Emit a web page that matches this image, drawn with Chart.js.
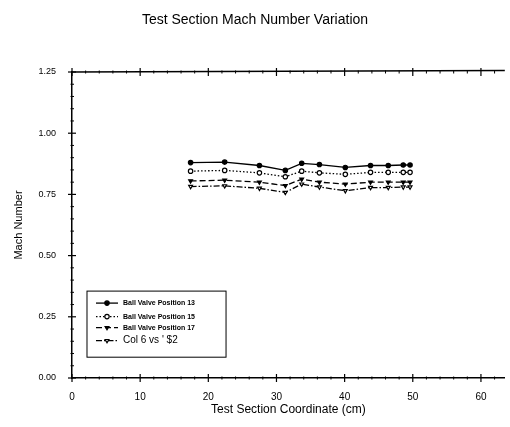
<!DOCTYPE html>
<html>
<head>
<meta charset="utf-8">
<script src="https://cdn.jsdelivr.net/npm/chart.js@4"></script>
<style>
html,body{margin:0;padding:0;background:#fff;}
#wrap{width:510px;height:427px;position:relative;}
</style>
</head>
<body>
<div id="wrap"><canvas id="c" width="510" height="427"></canvas></div>
<script>
// ---- data ----
const xCoords = [17.4, 22.4, 27.5, 31.3, 33.7, 36.3, 40.1, 43.8, 46.4, 48.6, 49.6];
const pos13 = [0.880, 0.882, 0.868, 0.848, 0.877, 0.872, 0.860, 0.868, 0.868, 0.870, 0.870];
const pos15 = [0.845, 0.848, 0.838, 0.822, 0.845, 0.838, 0.832, 0.840, 0.840, 0.840, 0.840];
const pos17 = [0.805, 0.808, 0.800, 0.786, 0.812, 0.800, 0.792, 0.800, 0.800, 0.800, 0.800];
const col6 = [0.782, 0.785, 0.775, 0.758, 0.792, 0.780, 0.765, 0.778, 0.778, 0.780, 0.780];
const seriesNames = ["Ball Valve Position 13", "Ball Valve Position 15", "Ball Valve Position 17", "Col 6 vs ' $2"];
const xTicks = [0, 10, 20, 30, 40, 50, 60];
const yTicks = [0.00, 0.25, 0.50, 0.75, 1.00, 1.25];

const FONT = "'Liberation Sans', Arial, sans-serif";
const toPts = (ys) => xCoords.map((x, i) => ({x: x, y: ys[i]}));

const styles = [
  {pointStyle: 'circle', rot: 0, fill: '#000', dash: []},
  {pointStyle: 'circle', rot: 0, fill: '#fff', dash: [1.5, 2]},
  {pointStyle: 'triangle', rot: 180, fill: '#000', dash: [6, 3]},
  {pointStyle: 'triangle', rot: 180, fill: '#fff', dash: [6, 2, 1.5, 2]}
];
const allData = [pos13, pos15, pos17, col6];

const datasets = allData.map((ys, i) => ({
  label: seriesNames[i],
  data: toPts(ys),
  showLine: true,
  borderColor: '#000',
  borderWidth: 1.3,
  borderDash: styles[i].dash,
  pointStyle: styles[i].pointStyle,
  rotation: styles[i].rot,
  pointRadius: 2.2,
  pointBorderWidth: 1.2,
  pointBorderColor: '#000',
  pointBackgroundColor: styles[i].fill,
  tension: 0
}));

const decor = {
  id: 'decor',
  afterDraw(chart) {
    const ctx = chart.ctx;
    const xs = chart.scales.x, ys = chart.scales.y;
    const a = chart.chartArea;
    ctx.save();
    ctx.strokeStyle = '#000';
    ctx.setLineDash([]);
    // top border line
    ctx.lineWidth = 1.3;
    ctx.beginPath();
    ctx.moveTo(a.left, a.top); ctx.lineTo(a.right, a.top - 1.5);
    ctx.stroke();
    // major x ticks (bottom and top)
    ctx.lineWidth = 1.2;
    xTicks.forEach(v => {
      const p = xs.getPixelForValue(v);
      ctx.beginPath();
      ctx.moveTo(p, a.bottom - 4); ctx.lineTo(p, a.bottom + 4);
      ctx.moveTo(p, a.top - 4); ctx.lineTo(p, a.top + 4);
      ctx.stroke();
    });
    // minor x ticks
    ctx.lineWidth = 1;
    for (let v = 2; v < xs.max; v += 2) {
      if (v % 10 === 0) continue;
      const p = xs.getPixelForValue(v);
      ctx.beginPath();
      ctx.moveTo(p, a.bottom - 1.5); ctx.lineTo(p, a.bottom + 1.5);
      ctx.moveTo(p, a.top - 1.5); ctx.lineTo(p, a.top + 1.5);
      ctx.stroke();
    }
    // major y ticks
    ctx.lineWidth = 1.2;
    yTicks.forEach(v => {
      const p = ys.getPixelForValue(v);
      ctx.beginPath();
      ctx.moveTo(a.left - 4, p); ctx.lineTo(a.left + 4, p);
      ctx.stroke();
    });
    // minor y ticks
    ctx.lineWidth = 1;
    for (let k = 1; k < 25; k++) {
      if (k % 5 === 0) continue;
      const p = ys.getPixelForValue(k * 0.05);
      ctx.beginPath();
      ctx.moveTo(a.left - 1.5, p); ctx.lineTo(a.left + 2, p);
      ctx.stroke();
    }
    // legend box
    const bx = xs.getPixelForValue(2.2), by = ys.getPixelForValue(0.355);
    const bx2 = xs.getPixelForValue(22.6), by2 = ys.getPixelForValue(0.085);
    ctx.lineWidth = 1;
    ctx.strokeRect(bx, by, bx2 - bx, by2 - by);
    const rowsY = [by + 12, by + 25.5, by + 36.5, by + 49.5];
    chart.data.datasets.forEach((ds, i) => {
      const yy = rowsY[i];
      ctx.save();
      ctx.lineWidth = 1.3;
      ctx.setLineDash(ds.borderDash);
      ctx.beginPath();
      ctx.moveTo(bx + 9, yy); ctx.lineTo(bx + 31, yy);
      ctx.stroke();
      ctx.restore();
      ctx.save();
      ctx.fillStyle = ds.pointBackgroundColor;
      ctx.strokeStyle = '#000';
      ctx.lineWidth = 1.2;
      Chart.helpers.drawPoint(ctx, {pointStyle: ds.pointStyle, rotation: ds.rotation, radius: 2.2, borderWidth: 1.2}, bx + 20, yy);
      ctx.restore();
      ctx.fillStyle = '#000';
      ctx.textBaseline = 'middle';
      ctx.textAlign = 'left';
      ctx.font = i < 3 ? "bold 7px " + FONT : "10px " + FONT;
      ctx.fillText(ds.label, bx + 36, yy);
    });
    ctx.restore();
  }
};

new Chart(document.getElementById('c'), {
  type: 'scatter',
  data: {datasets: datasets},
  plugins: [decor],
  options: {
    responsive: false,
    animation: false,
    layout: {padding: {left: 0, right: 0, top: 0, bottom: 0}},
    plugins: {
      legend: {display: false},
      tooltip: {enabled: false},
      title: {
        display: true,
        text: 'Test Section Mach Number Variation',
        color: '#000',
        font: {family: FONT, size: 14, weight: 'normal'},
        padding: {top: 12, bottom: 43.2}
      }
    },
    scales: {
      x: {
        type: 'linear',
        min: 0, max: 63.5,
        afterFit(s) { s.height = 49; s.paddingRight = 0; s.paddingLeft = 0; },
        grid: {display: false},
        border: {display: true, color: '#000', width: 1.5},
        ticks: {
          stepSize: 10, includeBounds: false, padding: 5,
          color: '#000', font: {family: FONT, size: 10},
          maxRotation: 0
        },
        title: {
          display: true, text: 'Test Section Coordinate (cm)', color: '#000',
          font: {family: FONT, size: 12}, padding: {top: 0, bottom: 10}
        }
      },
      y: {
        type: 'linear',
        min: 0, max: 1.25,
        afterFit(s) { s.width = 72; s.paddingTop = 0; s.paddingBottom = 0; },
        grid: {display: false},
        border: {display: true, color: '#000', width: 1.5},
        ticks: {
          stepSize: 0.25, padding: 8, color: '#000',
          font: {family: FONT, size: 9},
          callback: (v) => Number(v).toFixed(2)
        },
        title: {
          display: true, text: 'Mach Number', color: '#000',
          font: {family: FONT, size: 11}, padding: {top: 12, bottom: 0}
        }
      }
    }
  }
});
</script>
</body>
</html>
